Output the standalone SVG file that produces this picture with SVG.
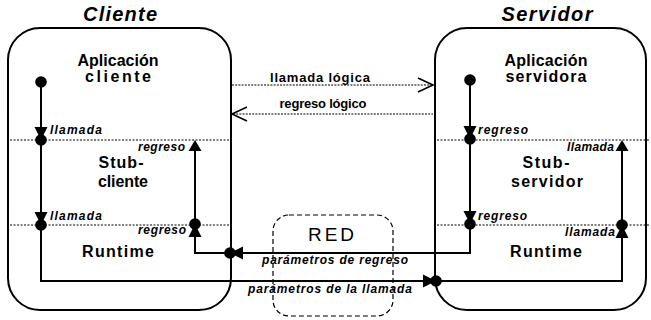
<svg xmlns="http://www.w3.org/2000/svg" xmlns:xlink="http://www.w3.org/1999/xlink" width="651" height="320" viewBox="0 0 651 320">
<style>
.box{fill:none;stroke:#000;stroke-width:2}
.red{fill:none;stroke:#000;stroke-width:1.2;stroke-dasharray:5 3}
.div{stroke:#000;stroke-width:1;stroke-dasharray:2 1.5;fill:none}
.ln{fill:none;stroke:#000;stroke-width:2}
.logic{fill:none;stroke:#000;stroke-width:1;stroke-dasharray:2 1.2}
.open{fill:none;stroke:#000;stroke-width:1.6}
.title{font-family:"Liberation Sans",Arial,sans-serif;font-weight:bold;font-style:italic;font-size:20px;text-anchor:middle}
.node{font-family:"Liberation Sans",Arial,sans-serif;font-weight:bold;font-size:16px;text-anchor:middle}
.lbl{font-family:"Liberation Sans",Arial,sans-serif;font-weight:bold;font-style:italic;font-size:12px}
.lg{font-family:"Liberation Sans",Arial,sans-serif;font-weight:bold;font-size:13px;text-anchor:middle}
.redt{font-family:"Liberation Sans",Arial,sans-serif;font-size:19px;text-anchor:middle}
</style>
<defs>
<circle id="dot" r="5.8" fill="#000"/>
<polygon id="tri" points="-6.5,-13 6.5,-13 0,0" fill="#000"/>
<polygon id="arr" points="0,0 -6.5,11 6.5,11" fill="#000"/>
</defs>

<g id="cliente">
<text class="title" x="120" y="21" textLength="74" lengthAdjust="spacing">Cliente</text>
<rect class="box" x="8" y="28" width="223" height="282" rx="32"/>
<line class="div" x1="10" y1="140" x2="231" y2="140"/>
<line class="div" x1="10" y1="225" x2="231" y2="225"/>
<g id="app-cliente">
<text class="node" x="118" y="66" textLength="81" lengthAdjust="spacing">Aplicación</text>
<text class="node" x="118" y="82" textLength="66" lengthAdjust="spacing">cliente</text>
</g>
<g id="stub-cliente">
<text class="node" x="121" y="168" textLength="45" lengthAdjust="spacing">Stub-</text>
<text class="node" x="123" y="187" textLength="50" lengthAdjust="spacing">cliente</text>
</g>
<g id="runtime-cliente">
<text class="node" x="118" y="257" textLength="72" lengthAdjust="spacing">Runtime</text>
</g>
</g>

<g id="servidor">
<text class="title" x="547" y="21" textLength="91" lengthAdjust="spacing">Servidor</text>
<rect class="box" x="435" y="28" width="211" height="282" rx="32"/>
<line class="div" x1="437" y1="140" x2="650" y2="140"/>
<line class="div" x1="437" y1="225" x2="650" y2="225"/>
<g id="app-servidor">
<text class="node" x="546" y="66" textLength="83" lengthAdjust="spacing">Aplicación</text>
<text class="node" x="546" y="82" textLength="81" lengthAdjust="spacing">servidora</text>
</g>
<g id="stub-servidor">
<text class="node" x="546" y="168" textLength="47" lengthAdjust="spacing">Stub-</text>
<text class="node" x="547" y="187" textLength="72" lengthAdjust="spacing">servidor</text>
</g>
<g id="runtime-servidor">
<text class="node" x="546" y="257" textLength="72" lengthAdjust="spacing">Runtime</text>
</g>
</g>

<g id="red">
<rect class="red" x="273" y="215" width="120" height="101" rx="16"/>
<text class="redt" x="331" y="241" textLength="46" lengthAdjust="spacing">RED</text>
</g>

<g id="connectors">
<line class="logic" x1="232" y1="85" x2="432" y2="85"/>
<polyline class="open" points="418,78 433,85 418,92"/>
<text class="lg" x="320" y="82" textLength="100" lengthAdjust="spacing">llamada lógica</text>
<line class="logic" x1="233" y1="114" x2="433" y2="114"/>
<polyline class="open" points="247,107 232,114 247,121"/>
<text class="lg" x="323" y="108" textLength="87" lengthAdjust="spacing">regreso lógico</text>

<polyline class="ln" points="41,82 41,281 622,281 622,148"/>
<use xlink:href="#dot" x="41" y="82"/>
<use xlink:href="#tri" transform="translate(41,140)"/>
<use xlink:href="#dot" x="41" y="140"/>
<use xlink:href="#tri" transform="translate(41,225)"/>
<use xlink:href="#dot" x="41" y="225"/>
<use xlink:href="#tri" transform="translate(436,281) rotate(-90)"/>
<use xlink:href="#dot" x="436" y="281"/>
<use xlink:href="#dot" x="622" y="225"/>
<use xlink:href="#tri" transform="translate(622,225) rotate(180)"/>
<use xlink:href="#arr" x="622" y="140"/>

<polyline class="ln" points="470,80 470,253 195,253 195,148"/>
<use xlink:href="#dot" x="470" y="80"/>
<use xlink:href="#tri" transform="translate(470,139)"/>
<use xlink:href="#dot" x="470" y="139"/>
<use xlink:href="#tri" transform="translate(470,224)"/>
<use xlink:href="#dot" x="470" y="224"/>
<use xlink:href="#tri" transform="translate(230,253) rotate(90)"/>
<use xlink:href="#dot" x="230" y="253"/>
<use xlink:href="#dot" x="195" y="224"/>
<use xlink:href="#tri" transform="translate(195,224) rotate(180)"/>
<use xlink:href="#arr" x="195" y="140"/>

<text class="lbl" x="50" y="134" textLength="52" lengthAdjust="spacing">llamada</text>
<text class="lbl" x="50" y="220" textLength="52" lengthAdjust="spacing">llamada</text>
<text class="lbl" x="138" y="151" textLength="47" lengthAdjust="spacing">regreso</text>
<text class="lbl" x="138" y="234" textLength="48" lengthAdjust="spacing">regreso</text>
<text class="lbl" x="478" y="134" textLength="50" lengthAdjust="spacing">regreso</text>
<text class="lbl" x="478" y="220" textLength="49" lengthAdjust="spacing">regreso</text>
<text class="lbl" x="567" y="151" textLength="47" lengthAdjust="spacing">llamada</text>
<text class="lbl" x="565" y="236" textLength="50" lengthAdjust="spacing">llamada</text>
<text class="lbl" x="262" y="264" textLength="146" lengthAdjust="spacing">parámetros de regreso</text>
<text class="lbl" x="248" y="293" textLength="164" lengthAdjust="spacing">parámetros de la llamada</text>
</g>
</svg>
